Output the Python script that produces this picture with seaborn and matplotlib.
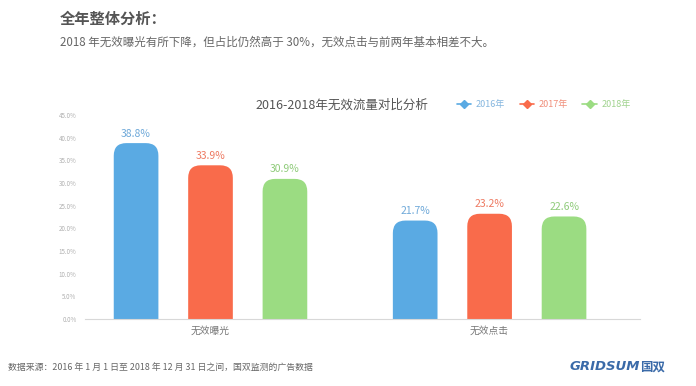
import matplotlib
matplotlib.use("Agg")
import matplotlib.pyplot as plt
import seaborn as sns
import pandas as pd
from matplotlib.patches import FancyBboxPatch
from matplotlib.lines import Line2D

# data
categories = ["无效曝光", "无效点击"]
years = ["2016年", "2017年", "2018年"]
values = {
    "2016年": [38.8, 21.7],
    "2017年": [33.9, 23.2],
    "2018年": [30.9, 22.6],
}
yticks = [0, 5, 10, 15, 20, 25, 30, 35, 40, 45]

bar_colors = ["#5AAAE3", "#F96B4B", "#9BDC82"]
label_colors = ["#6FA9D9", "#EE7A62", "#8FCB7A"]

rows = []
for y in years:
    for c, v in zip(categories, values[y]):
        rows.append({"类别": c, "年份": y, "值": v})
df = pd.DataFrame(rows)

sns.set_style("white")
plt.rcParams["font.family"] = ["Noto Sans CJK SC", "DejaVu Sans"]

fig = plt.figure(figsize=(6.96, 3.86), dpi=100)
ax = fig.add_axes([0.122, 0.174, 0.798, 0.528])

sns.barplot(data=df, x="类别", y="值", hue="年份", palette=bar_colors,
            width=0.8, gap=0.4, ax=ax, legend=False, saturation=1)

ax.set_ylim(0, 45)
ax.set_xlim(-0.45, 1.54)

# round the tops of the bars
px_per_x = 0.798 * 696 / (1.54 + 0.45)
px_per_y = 0.528 * 386 / 45
r = 0.045
aspect = px_per_x / px_per_y
for p in list(ax.patches):
    x, w, h = p.get_x(), p.get_width(), p.get_height()
    col = p.get_facecolor()
    p.remove()
    fb = FancyBboxPatch((x, -5), w, h + 5,
                        boxstyle=f"round,pad=0,rounding_size={r}",
                        mutation_aspect=aspect, facecolor=col,
                        edgecolor="none", zorder=2)
    ax.add_patch(fb)

# value labels
offsets = [-0.267, 0, 0.267]
for j, y in enumerate(years):
    for i, v in enumerate(values[y]):
        ax.text(i + offsets[j], v + 1.0, f"{v}%", ha="center", va="bottom",
                fontsize=7.5, color=label_colors[j])

ax.set_yticks(yticks)
ax.set_yticklabels([f"{t:.1f}%" for t in yticks], fontsize=4.5, color="#b0b0b0")
ax.tick_params(axis="y", length=0, pad=6)
ax.tick_params(axis="x", length=0, labelsize=7, colors="#777777", pad=5)
ax.set_xlabel("")
ax.set_ylabel("")
for s in ["top", "right", "left"]:
    ax.spines[s].set_visible(False)
ax.spines["bottom"].set_color("#d8d8d8")
ax.spines["bottom"].set_linewidth(0.8)

# chart title and legend
fig.text(0.367, 0.728, "2016-2018年无效流量对比分析", fontsize=9, color="#555555",
         va="center")
handles = [Line2D([0], [0], color=c, marker="D", markersize=4, lw=1.2)
           for c in bar_colors]
leg = fig.legend(handles, years, loc="center left", bbox_to_anchor=(0.645, 0.728),
                 ncol=3, frameon=False, fontsize=6.5, handlelength=1.6,
                 handletextpad=0.5, columnspacing=1.6)
for t, c in zip(leg.get_texts(), label_colors):
    t.set_color(c)
    t.set_alpha(0.85)

# header
fig.text(0.086, 0.952, "全年整体分析：", fontsize=11, fontweight="bold",
         color="#555555", va="center")
fig.text(0.086, 0.89, "2018 年无效曝光有所下降，但占比仍然高于 30%，无效点击与前两年基本相差不大。",
         fontsize=8.3, color="#666666", va="center")

# footer
fig.text(0.012, 0.048, "数据来源：2016 年 1 月 1 日至 2018 年 12 月 31 日之间，国双监测的广告数据",
         fontsize=6.4, color="#666666", va="center")
fig.text(0.818, 0.05, "GRIDSUM", fontsize=9.5, fontweight="bold", fontstyle="italic",
         color="#3a6aa8", va="center", family=["DejaVu Sans"])
fig.text(0.92, 0.05, "国双", fontsize=9, fontweight="bold", color="#3a6aa8", va="center")

fig.savefig("out.png", dpi=100, facecolor="white")
